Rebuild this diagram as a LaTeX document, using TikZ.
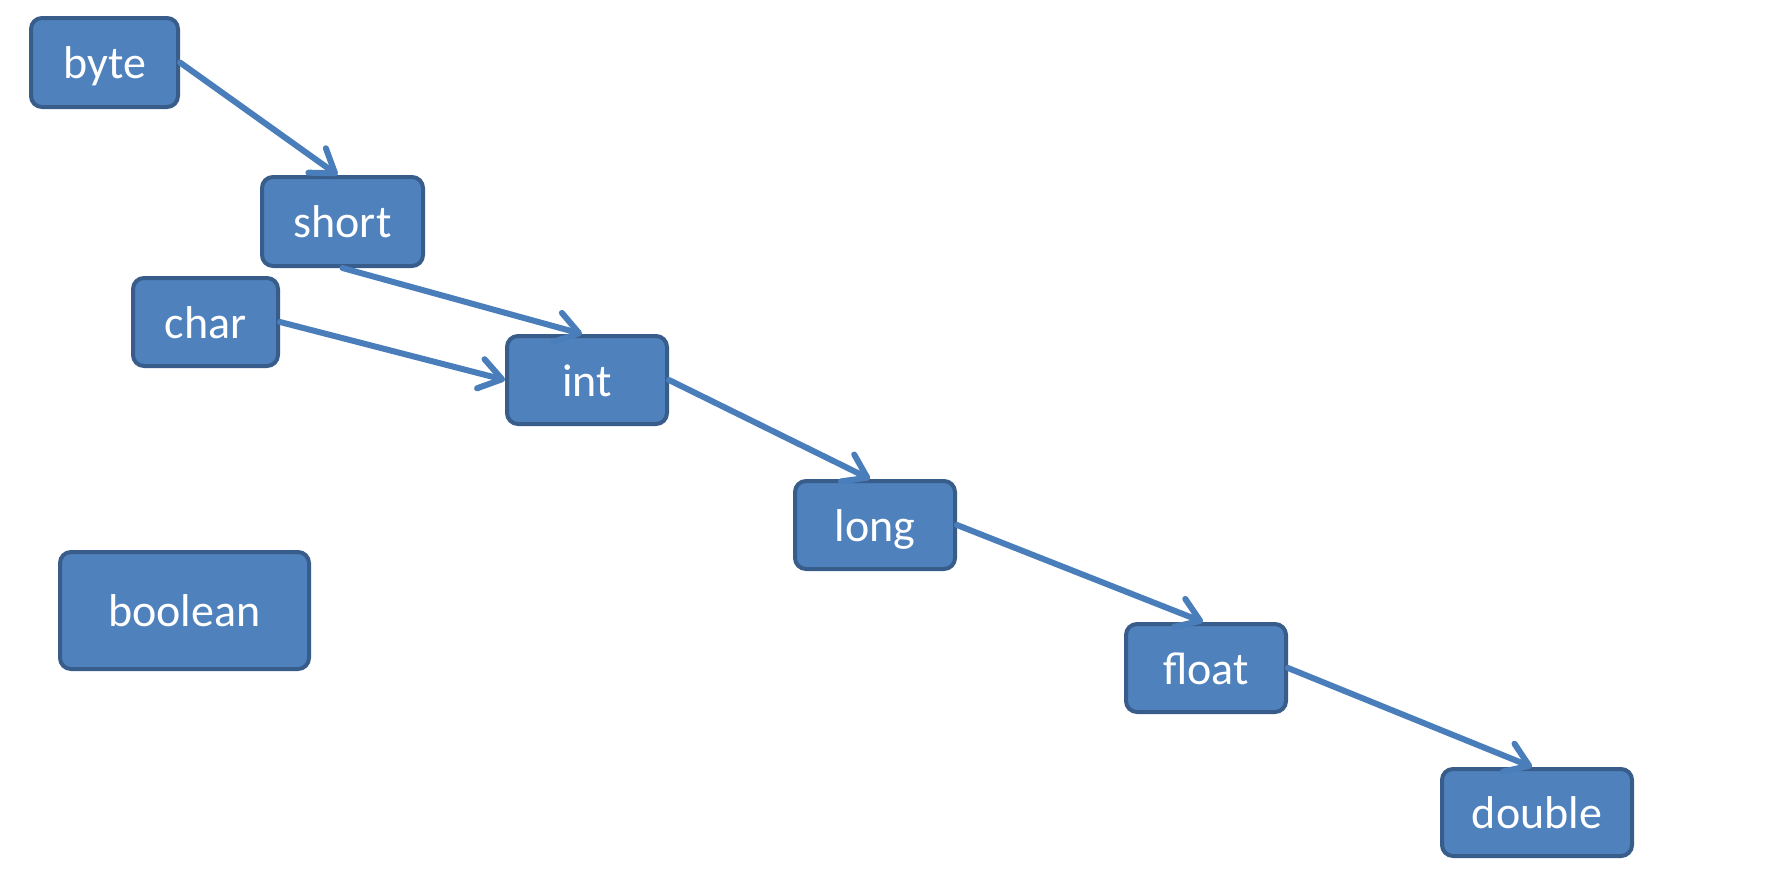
\documentclass[tikz,border=0pt]{standalone}
\usepackage{fontspec}
\setmainfont{Carlito}
\usetikzlibrary{arrows.meta}
\definecolor{boxfill}{HTML}{4F81BD}
\definecolor{boxline}{HTML}{385D8A}
\definecolor{arrowcol}{HTML}{4A7EBB}
\tikzset{
  typebox/.style={draw=boxline, line width=4pt, fill=boxfill, rounded corners=11pt,
    text=white, font=\fontsize{46}{54}\selectfont, inner sep=0pt, anchor=center,
    text height=32pt, text depth=0pt},
  conv/.style={draw=arrowcol, line width=6pt, line cap=round,
    -{Straight Barb[length=22pt,width=30pt,line cap=round,line join=round]}}
}
\begin{document}
\begin{tikzpicture}[x=1pt,y=-1pt]
\useasboundingbox (0,0) rectangle (1766,886);
\node[typebox, minimum width=147pt, minimum height=89pt] (byte) at (104.5,62.5) {byte};
\node[typebox, minimum width=161pt, minimum height=89pt] (short) at (342.5,221.5) {short};
\node[typebox, minimum width=145pt, minimum height=88pt] (char) at (205.5,322) {char};
\node[typebox, minimum width=160pt, minimum height=88pt] (int) at (587,380) {int};
\node[typebox, minimum width=160pt, minimum height=88pt] (long) at (875,525) {long};
\node[typebox, minimum width=249pt, minimum height=117pt] (boolean) at (184.5,610.5) {boolean};
\node[typebox, minimum width=160pt, minimum height=88pt] (float) at (1206,668) {float};
\node[typebox, minimum width=190pt, minimum height=87pt] (double) at (1537,812.5) {double};
\draw[conv] (byte.east) -- ([xshift=-5pt]short.north);
\draw[conv] (short.south) -- ([xshift=-5pt]int.north);
\draw[conv] (char.east) -- (int.west);
\draw[conv] (int.east) -- ([xshift=-5pt]long.north);
\draw[conv] (long.east) -- ([xshift=-3pt]float.north);
\draw[conv] (float.east) -- ([xshift=-5pt]double.north);
\end{tikzpicture}
\end{document}
